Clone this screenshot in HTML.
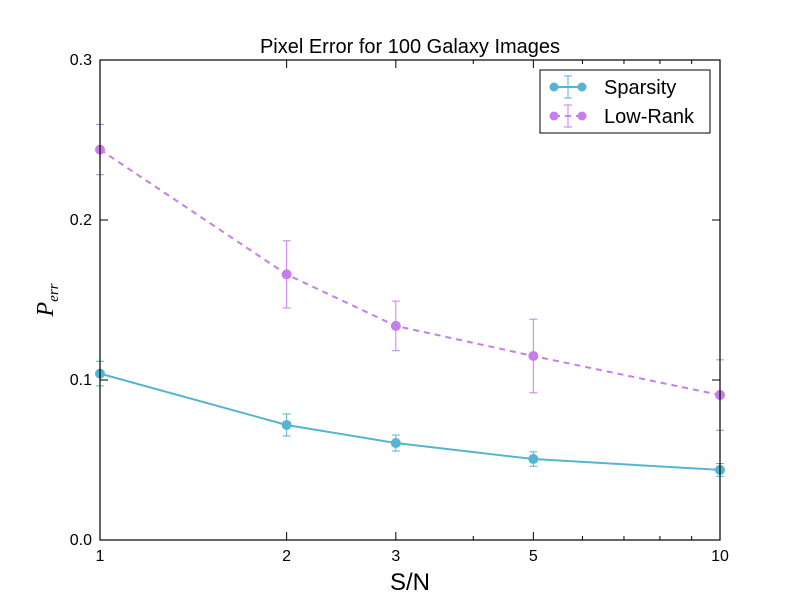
<!DOCTYPE html>
<html><head><meta charset="utf-8"><style>body{margin:0;background:#fff}svg{font-family:"DejaVu Sans","Liberation Sans",sans-serif}</style></head>
<body>
<svg id="chart" width="800" height="600" viewBox="0 0 800 600" xmlns="http://www.w3.org/2000/svg"></svg>
<script>
const xValues = [1, 2, 3, 5, 10];
const sparsity = [0.104, 0.0719, 0.0606, 0.0506, 0.0438];
const sparsityErr = [0.0077, 0.0069, 0.005, 0.0045, 0.004];
const lowRank = [0.244, 0.166, 0.1338, 0.115, 0.0906];
const lowRankErr = [0.0157, 0.021, 0.0155, 0.023, 0.022];
const yTicks = [0.0, 0.1, 0.2, 0.3];
const yTickLabels = ["0.0", "0.1", "0.2", "0.3"];
const xTicks = [1, 2, 3, 5, 10];
const xMinor = [4, 6, 7, 8, 9];

const L = 100, R = 720, T = 60, B = 540;
const xs = v => L + (R - L) * Math.log10(v);
const ys = v => B - (B - T) * v / 0.3;
const svg = document.getElementById('chart');
const NS = 'http://www.w3.org/2000/svg';
function mk(tag, attrs, parent) {
  const e = document.createElementNS(NS, tag);
  for (const k in attrs) e.setAttribute(k, attrs[k]);
  (parent || svg).appendChild(e);
  return e;
}
const title = mk('text', {x: 410, y: 53, 'text-anchor': 'middle', 'font-size': 20, 'font-family': 'Liberation Sans, sans-serif'});
title.textContent = 'Pixel Error for 100 Galaxy Images';



function series(vals, errs, color, dash, name) {
  const g = mk('g', {});
  
  
  const pts = vals.map((v, i) => xs(xValues[i]) + ',' + ys(v)).join(' ');
  mk('polyline', {points: pts, fill: 'none', stroke: color, 'stroke-width': 2, 'stroke-dasharray': dash}, g);
  vals.forEach((v, i) => {
    const x = xs(xValues[i]);
    const e = mk('g', {}, g);
    
    
    mk('line', {x1: x, x2: x, y1: ys(v + errs[i]), y2: ys(v - errs[i]), stroke: color, 'stroke-width': 1}, e);
    mk('line', {x1: x - 4, x2: x + 4, y1: ys(v + errs[i]), y2: ys(v + errs[i]), stroke: color}, e);
    mk('line', {x1: x - 4, x2: x + 4, y1: ys(v - errs[i]), y2: ys(v - errs[i]), stroke: color}, e);
    const c = mk('circle', {cx: x, cy: ys(v), r: 4.5, fill: color, stroke: color}, g);
    
    
  });
}
series(sparsity, sparsityErr, '#56b4d3', 'none', 'sparsity');
series(lowRank, lowRankErr, '#c77ded', '6,5', 'low-rank');

const axes = mk('g', {});


mk('rect', {x: L, y: T, width: R - L, height: B - T, fill: 'none', stroke: '#000', 'stroke-width': 1.2}, axes);
yTicks.forEach((v, i) => {
  const y = ys(v);
  mk('line', {x1: L, x2: L + 8, y1: y, y2: y, stroke: '#000'}, axes);
  mk('line', {x1: R, x2: R - 8, y1: y, y2: y, stroke: '#000'}, axes);
  const t = mk('text', {x: L - 8, y: y + 5, 'text-anchor': 'end', 'font-size': 16, 'font-family': 'Liberation Sans, sans-serif'}, axes);
  t.textContent = yTickLabels[i];
  
  
});
xTicks.forEach(v => {
  const x = xs(v);
  mk('line', {x1: x, x2: x, y1: B, y2: B - 8, stroke: '#000'}, axes);
  mk('line', {x1: x, x2: x, y1: T, y2: T + 8, stroke: '#000'}, axes);
  const t = mk('text', {x: x, y: B + 21, 'text-anchor': 'middle', 'font-size': 16, 'font-family': 'Liberation Sans, sans-serif'}, axes);
  t.textContent = String(v);
  
  
});
xMinor.forEach(v => {
  const x = xs(v);
  mk('line', {x1: x, x2: x, y1: B, y2: B - 4, stroke: '#000'}, axes);
  mk('line', {x1: x, x2: x, y1: T, y2: T + 4, stroke: '#000'}, axes);
});
const xl = mk('text', {x: 410, y: 590, 'text-anchor': 'middle', 'font-size': 24, 'font-family': 'Liberation Sans, sans-serif'});
xl.textContent = 'S/N';


const yl = mk('text', {x: 0, y: 0, 'text-anchor': 'middle', 'font-size': 24, 'font-style': 'italic', 'font-family': 'Liberation Serif, serif', transform: 'translate(53,300) rotate(-90)'});
yl.innerHTML = 'P<tspan font-size="15" dy="5">err</tspan>';



const lg = mk('g', {});


mk('rect', {x: 540, y: 70, width: 170, height: 63, fill: '#fff', stroke: '#000'}, lg);
[['Sparsity', '#56b4d3', 'none', 87], ['Low-Rank', '#c77ded', '6,5', 116]].forEach(([n, c, d, y]) => {
  const e = mk('g', {}, lg);
  
  
  mk('line', {x1: 554, x2: 582, y1: y, y2: y, stroke: c, 'stroke-width': 2, 'stroke-dasharray': d}, e);
  mk('line', {x1: 568, x2: 568, y1: y - 11, y2: y + 11, stroke: c}, e);
  mk('line', {x1: 564, x2: 572, y1: y - 11, y2: y - 11, stroke: c}, e);
  mk('line', {x1: 564, x2: 572, y1: y + 11, y2: y + 11, stroke: c}, e);
  mk('circle', {cx: 554, cy: y, r: 4.5, fill: c}, e);
  mk('circle', {cx: 582, cy: y, r: 4.5, fill: c}, e);
  const t = mk('text', {x: 604, y: y + 7, 'font-size': 20, 'font-family': 'Liberation Sans, sans-serif'}, e);
  t.textContent = n;
});
</script>
</body></html>
